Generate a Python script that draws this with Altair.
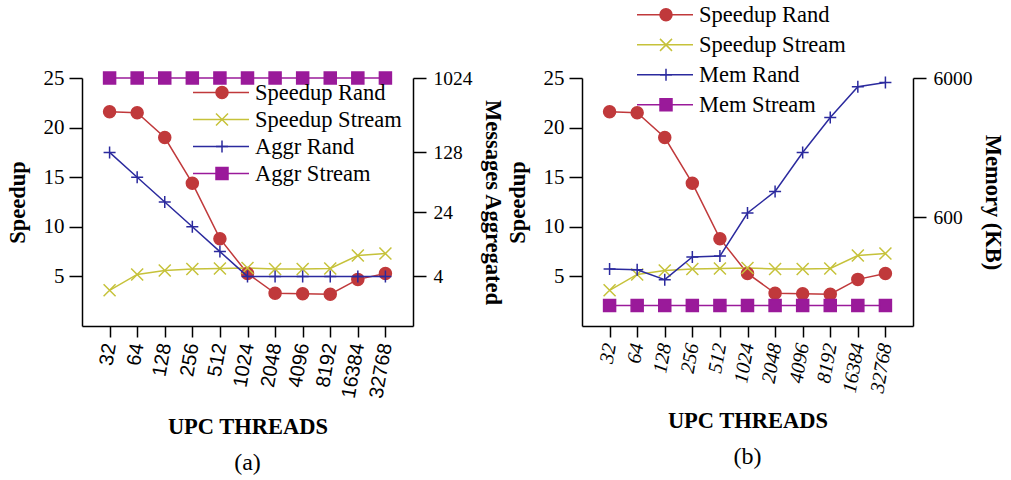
import altair as alt
import pandas as pd

# UPC thread counts on the shared x axis
threads = ["32", "64", "128", "256", "512", "1024", "2048", "4096", "8192", "16384", "32768"]

# speedup (left axis, both panels)
speedup_rand = [21.6, 21.5, 19.0, 14.4, 8.8, 5.3, 3.3, 3.25, 3.2, 4.7, 5.3]
speedup_stream = [3.6, 5.2, 5.6, 5.75, 5.8, 5.85, 5.75, 5.75, 5.8, 7.1, 7.3]

# messages aggregated (right axis, panel a)
aggr_rand = [128, 64, 32, 16, 8, 4, 4, 4, 4, 4, 4]
aggr_stream = [1024, 1024, 1024, 1024, 1024, 1024, 1024, 1024, 1024, 1024, 1024]

# memory in KB (right axis, panel b)
mem_rand = [256, 253, 215, 313, 317, 646, 922, 1755, 3127, 5198, 5576]
mem_stream = [140, 140, 140, 140, 140, 140, 140, 140, 140, 140, 140]

series_a = ["Speedup Rand", "Speedup Stream", "Aggr Rand", "Aggr Stream"]
series_b = ["Speedup Rand", "Speedup Stream", "Mem Rand", "Mem Stream"]
keys_a = ["a0", "a1", "a2", "a3"]
keys_b = ["b0", "b1", "b2", "b3"]

colors = ["#c0393b", "#c6c23a", "#2b2a9e", "#9a1a9a"]
X_PATH = "M-1,-1L1,1M-1,1L1,-1"
PLUS_PATH = "M-1,0L1,0M0,-1L0,1"
shapes = ["circle", X_PATH, PLUS_PATH, "square"]
fills = [colors[0], "transparent", "transparent", colors[3]]

SERIF = "Liberation Serif"


def long_df(names, keys, values):
    rows = []
    for name, key, vals in zip(names, keys, values):
        for t, v in zip(threads, vals):
            rows.append({"threads": t, "value": v, "series": name, "mk": key})
    return pd.DataFrame(rows)


def y_axis(title, orient, values, label_size, label_pad, title_pad):
    return alt.Axis(
        title=title, orient=orient, values=values, format="d", grid=False,
        domainColor="black", domainWidth=1.5, tickColor="black", tickWidth=1.5,
        tickSize=13, labelFont=SERIF, labelFontSize=label_size, labelColor="black",
        labelPadding=label_pad, titleFont=SERIF, titleFontSize=22.5,
        titleFontWeight="bold", titleColor="black", titlePadding=title_pad,
    )


def panel(names, keys, right_vals, right_title, right_scale, right_ticks,
          leg_x, leg_y, row_h, xfont, xstyle, caption, right_title_pad):
    left_df = long_df(names[:2], keys[:2], [speedup_rand, speedup_stream])
    right_df = long_df(names[2:], keys[2:], right_vals)

    x = alt.X(
        "threads:O",
        scale=alt.Scale(type="point", domain=threads, padding=1),
        axis=alt.Axis(
            title="UPC THREADS", labelAngle=280, labelFont=xfont, labelFontStyle=xstyle,
            labelFontSize=20, labelColor="black", labelPadding=6,
            domainColor="black", domainWidth=1.5, tickColor="black", tickWidth=1.5,
            tickSize=11, titleFont=SERIF, titleFontSize=22.5, titleFontWeight="bold",
            titleColor="black", titlePadding=16,
        ),
    )

    # line swatches with the series names
    line_legend = alt.Legend(
        title=None, orient="none", legendX=leg_x, legendY=leg_y,
        symbolType="stroke", symbolSize=3136, symbolStrokeWidth=1.5,
        clipHeight=row_h, rowPadding=0, padding=0,
        labelFont=SERIF, labelFontSize=22.5, labelColor="black",
        labelOffset=5, labelLimit=400,
    )
    # marker glyphs laid over the middle of each swatch
    marker_legend = alt.Legend(
        title=None, orient="none", legendX=leg_x + 23, legendY=leg_y,
        symbolSize=144, symbolStrokeWidth=1.5, symbolOpacity=1,
        clipHeight=row_h, rowPadding=0, padding=0,
        labelFontSize=10, labelExpr="''",
    )

    color = alt.Color("series:N", scale=alt.Scale(domain=names, range=colors), legend=line_legend)
    fill = alt.Fill("mk:N", scale=alt.Scale(domain=keys, range=fills), legend=marker_legend)
    stroke = alt.Stroke("mk:N", scale=alt.Scale(domain=keys, range=colors), legend=marker_legend)
    shape = alt.Shape("mk:N", scale=alt.Scale(domain=keys, range=shapes), legend=marker_legend)

    y_left = alt.Y(
        "value:Q", scale=alt.Scale(domain=[0, 25], nice=False, zero=False),
        axis=y_axis("Speedup", "left", [5, 10, 15, 20, 25], 21, 5, 14),
    )
    y_right = alt.Y(
        "value:Q", scale=right_scale,
        axis=y_axis(right_title, "right", right_ticks, 19.5, 7, right_title_pad),
    )

    def pair(df, y):
        base = alt.Chart(df)
        line = base.mark_line(strokeWidth=1.5).encode(x=x, y=y, color=color)
        pts = base.mark_point(size=144, strokeWidth=1.5, opacity=1).encode(
            x=x, y=y, fill=fill, stroke=stroke, shape=shape
        )
        return alt.layer(line, pts)

    return (
        alt.layer(pair(left_df, y_left), pair(right_df, y_right))
        .resolve_scale(y="independent")
        .properties(
            width=331, height=248,
            title=alt.TitleParams(
                caption, orient="bottom", frame="group", anchor="middle",
                font=SERIF, fontSize=24, fontWeight="normal", color="black", offset=13,
            ),
        )
    )


panel_a = panel(
    series_a, keys_a, [aggr_rand, aggr_stream], "Messages Aggregated",
    alt.Scale(type="log", base=2, domain=[1, 1024], nice=False), [4, 24, 128, 1024],
    110, 1, 27, "Liberation Sans", "normal", "(a)", 8,
)
panel_b = panel(
    series_b, keys_b, [mem_rand, mem_stream], "Memory (KB)",
    alt.Scale(type="log", base=10, domain=[100, 6000], nice=False), [600, 6000],
    54, -78, 29.7, SERIF, "italic", "(b)", 8,
)

chart = (
    alt.hconcat(panel_a, panel_b, spacing=3)
    .resolve_scale(color="independent", fill="independent", stroke="independent", shape="independent")
    .configure_view(stroke=None)
    .properties(padding={"left": 6, "top": 0, "right": 4, "bottom": 0}, background="white")
)

chart.save("out.html", embed_options={"renderer": "svg", "actions": False})
